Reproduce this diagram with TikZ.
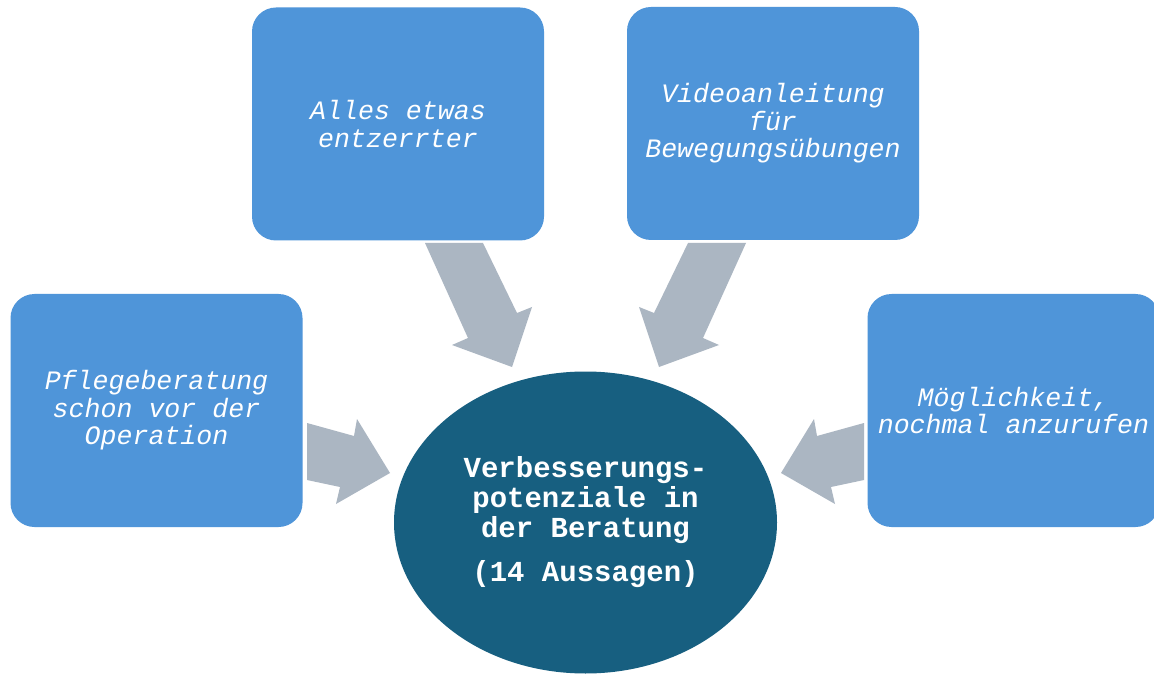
\documentclass[tikz,border=0pt]{standalone}
\usepackage{fontspec}
\setmonofont{Liberation Mono}
\usetikzlibrary{shapes.geometric}
\definecolor{boxblue}{HTML}{4F95D9}
\definecolor{centerblue}{HTML}{175F80}
\definecolor{arrowgray}{HTML}{ABB6C2}
\tikzset{
  box/.style={rectangle, rounded corners=24pt, fill=boxblue, draw=none,
    minimum width=292pt, minimum height=233pt, inner sep=0pt,
    text=white, align=center,
    font=\ttfamily\itshape\fontsize{26.6}{27.4}\selectfont},
  centre/.style={ellipse, fill=centerblue, draw=none,
    minimum width=383pt, minimum height=302pt, inner sep=0pt,
    text=white, align=center,
    font=\ttfamily\bfseries\fontsize{29}{30}\selectfont},
  blockarrow/.style={fill=arrowgray, draw=none}
}
\begin{document}
\begin{tikzpicture}[x=1pt,y=-1pt]
\useasboundingbox (0,0) rectangle (1154,676);
\clip (0,0) rectangle (1154,676);
\fill[white] (0,0) rectangle (1154,676);

% arrows
\fill[blockarrow] (307,423) -- (354,436) -- (357,419) -- (390,473) -- (336,504) -- (340,487) -- (307,480) -- cycle;
\fill[blockarrow] (864,423) -- (817,436) -- (814,419) -- (781,473) -- (835,504) -- (831,487) -- (864,480) -- cycle;
\fill[blockarrow] (425,243) -- (468,338) -- (452,345) -- (512,367) -- (532,307) -- (517,313) -- (483,243) -- cycle;
\fill[blockarrow] (746,243) -- (703,338) -- (719,345) -- (659,367) -- (639,307) -- (654,313) -- (688,243) -- cycle;

% boxes
\node[box] (pflege) at (156.5,410.5) {Pflegeberatung\\schon vor der\\Operation};
\node[box] (alles) at (398,124) {Alles etwas\\entzerrter};
\node[box] (video) at (773,123.5) {Videoanleitung\\für\\Bewegungsübungen};
\node[box] (moegl) at (1013.5,410.5) {Möglichkeit,\\nochmal anzurufen};

% centre
\node[centre] (mitte) at (585.5,522.5) {Verbesserungs-\\potenziale in\\der Beratung\\[14pt](14 Aussagen)};
\end{tikzpicture}
\end{document}
